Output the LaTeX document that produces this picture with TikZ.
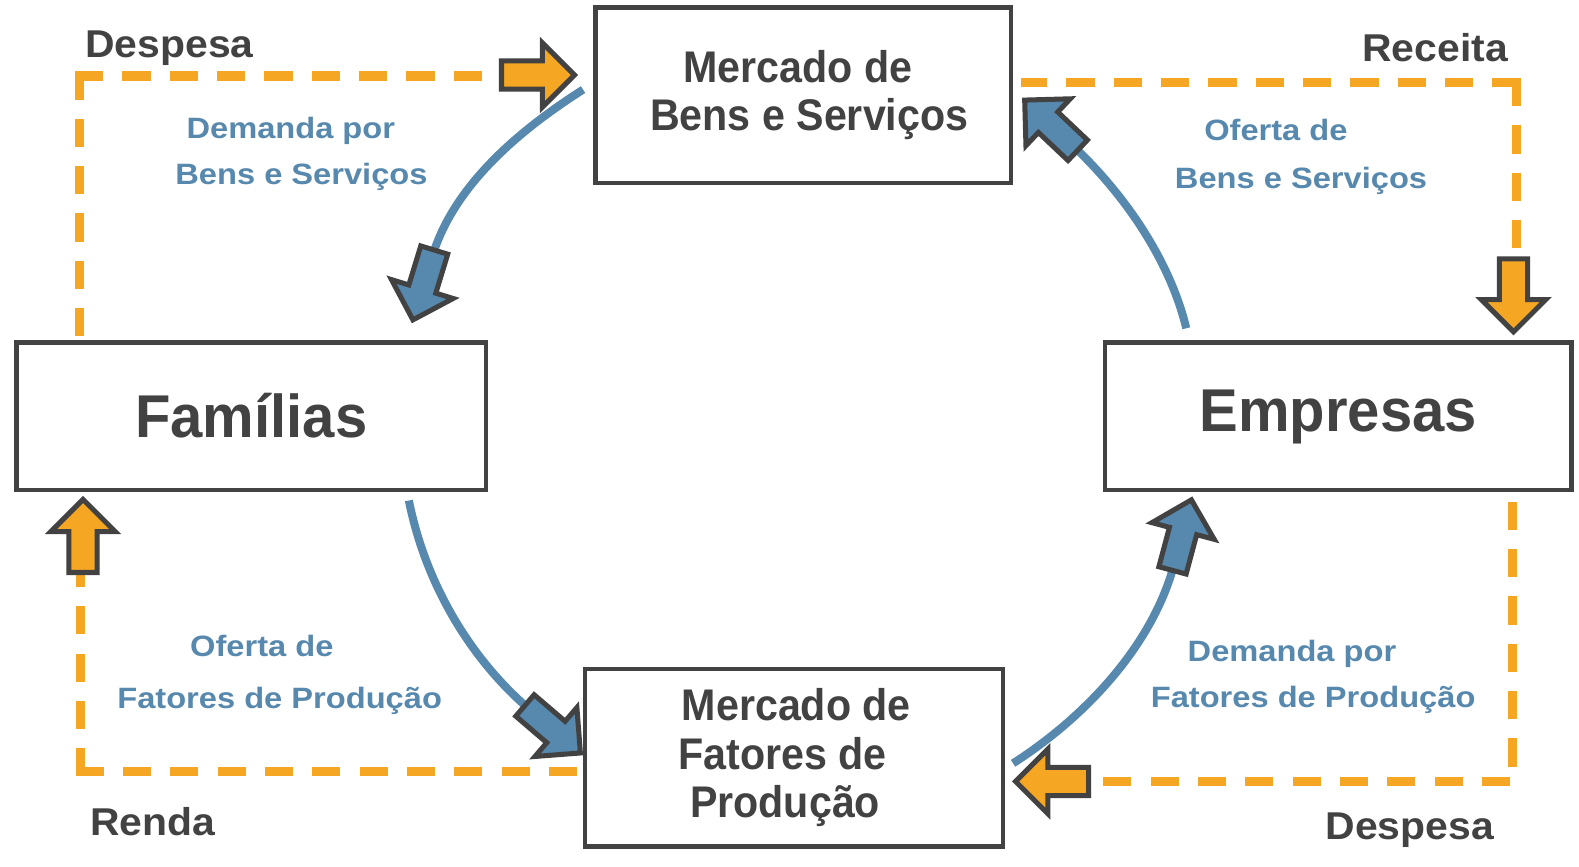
\documentclass[tikz,border=0pt]{standalone}
\usepackage{fontspec}
\setmainfont{Liberation Sans}
\newfontfamily\fBox{Liberation Sans}[FakeStretch=0.93]
\newfontfamily\fBig{Liberation Sans}[FakeStretch=0.96]
\newfontfamily\fOut{Liberation Sans}[FakeStretch=1.055]
\newfontfamily\fFlow{Liberation Sans}[FakeStretch=1.11]
\definecolor{dgray}{RGB}{66,66,66}
\definecolor{flowblue}{RGB}{87,136,173}
\definecolor{moneyor}{RGB}{245,166,35}
\newcommand\blockarr[3]{% tip, angle, fill
  \begin{scope}[shift={(#1)},rotate=#2]
    \draw[arrowline,fill=#3] (-3.5,0) -- (-35.5,32) -- (-35.5,14) -- (-76,14)
      -- (-76,-14) -- (-35.5,-14) -- (-35.5,-32) -- cycle;
  \end{scope}}
\newcommand\arrtail[3]{% name, tip, angle
  \path[shift={(#2)},rotate=#3] (-70,0) coordinate (#1);}
\newcommand\pad[1]{\rule{#1}{0pt}}
\begin{document}
\begin{tikzpicture}[x=1pt,y=1pt,
  box/.style={draw=dgray,line width=4.5pt,text=dgray,inner sep=0pt,align=center,
    font=\fBox\bfseries\fontsize{44}{48.4}\selectfont},
  bigbox/.style={draw=dgray,line width=4.5pt,text=dgray,inner sep=0pt,
    font=\fBig\bfseries\fontsize{60}{66}\selectfont,text height=43pt},
  outlbl/.style={text=dgray,inner sep=0pt,anchor=base,
    font=\fOut\bfseries\fontsize{38.5}{44}\selectfont},
  flowlbl/.style={text=flowblue,inner sep=0pt,anchor=base,
    font=\fFlow\bfseries\fontsize{29.2}{34}\selectfont},
  flow/.style={draw=flowblue,line width=8pt},
  money/.style={draw=moneyor,line width=9pt,line cap=rect,dash pattern=on 19pt off 28pt},
  arrowline/.style={draw=dgray,line width=5pt,line join=miter}]
\useasboundingbox (0,0) rectangle (1568,860);
\fill[white] (0,0) rectangle (1568,860);

% dashed money flows
\coordinate (cTL) at (79,784.5);
\coordinate (eTLv) at (79,530);
\coordinate (eTLh) at (495,784.5);
\coordinate (cTR) at (1505.5,778);
\coordinate (eTRh) at (1018,778);
\coordinate (eTRv) at (1505.5,605);
\coordinate (sBRv) at (1501.5,357.3);
\coordinate (eBRv) at (1501.5,100);
\coordinate (sBRh) at (1495,83.7);
\coordinate (eBRh) at (1085,83.7);
\coordinate (cBL) at (79.5,93.5);
\coordinate (eBLv) at (79.5,290);
\coordinate (eBLh) at (570,93.5);
\draw[money] (cTL) -- (eTLv);
\draw[money] (cTL) -- (eTLh);
\draw[money] (cTR) -- (eTRh);
\draw[money] (cTR) -- (eTRv);
\draw[money] (sBRv) -- (eBRv);
\draw[money] (sBRh) -- (eBRh);
\draw[money] (cBL) -- (eBLv);
\draw[money] (cBL) -- (eBLh);

% boxes
\node[box,minimum width=412.5pt,minimum height=174.5pt] (bens) at (797.5,765.5)
  {Mercado de\pad{10.4pt}\\\pad{12.2pt}Bens e Serviços};
\node[box,minimum width=415pt,minimum height=176.5pt] (fatores) at (788.3,107.5)
  {\pad{5pt}Mercado de\\Fatores de\pad{22.6pt}\\Produção\pad{17.4pt}};
\node[bigbox,minimum width=466.5pt,minimum height=146.5pt] (familias) at (249.5,446.5) {Famílias};
\node[bigbox,minimum width=463.5pt,minimum height=146.5pt] (empresas) at (1329,446.5) {Empresas};

% blue real flows
\coordinate (startA) at (579,771);
\coordinate (startB) at (406,363);
\coordinate (startC) at (1006,102);
\coordinate (startD) at (1178,534);
\arrtail{tailA}{409,539}{-107}
\arrtail{tailB}{579,110}{-40.6}
\arrtail{tailC}{1184,367}{75}
\arrtail{tailD}{1015,763}{136.6}
\draw[flow] (startA) .. controls +(212.5:74) and +(73:74) .. (tailA);
\draw[flow] (startB) .. controls +(281.3:81) and +(139.4:81) .. (tailB);
\draw[flow] (startC) .. controls +(32.6:84) and +(255:84) .. (tailC);
\draw[flow] (startD) .. controls +(103.6:70) and +(316.6:70) .. (tailD);

% block arrows
\blockarr{574,785.5}{0}{moneyor}
\blockarr{1503,527}{-90}{moneyor}
\blockarr{1005,84}{180}{moneyor}
\blockarr{82.5,367.5}{90}{moneyor}
\blockarr{409,539}{-107}{flowblue}
\blockarr{579,110}{-40.6}{flowblue}
\blockarr{1184,367}{75}{flowblue}
\blockarr{1015,763}{136.6}{flowblue}

% labels
\node[outlbl] (despesaTL) at (168.3,802.7) {Despesa};
\node[outlbl] (receita) at (1425,799.3) {Receita};
\node[outlbl] (renda) at (151.9,30.8) {Renda};
\node[outlbl] (despesaBR) at (1400,26) {Despesa};

\node[flowlbl] (dem1a) at (288.8,722.7) {Demanda por};
\node[flowlbl] (dem1b) at (299.4,676.3) {Bens e Serviços};
\node[flowlbl] (of1a) at (1267,720.6) {Oferta de};
\node[flowlbl] (of1b) at (1292,673.3) {Bens e Serviços};
\node[flowlbl] (of2a) at (260,208) {Oferta de};
\node[flowlbl] (of2b) at (277.7,156.6) {Fatores de Produção};
\node[flowlbl] (dem2a) at (1283,202.7) {Demanda por};
\node[flowlbl] (dem2b) at (1304,157) {Fatores de Produção};
\end{tikzpicture}
\end{document}
